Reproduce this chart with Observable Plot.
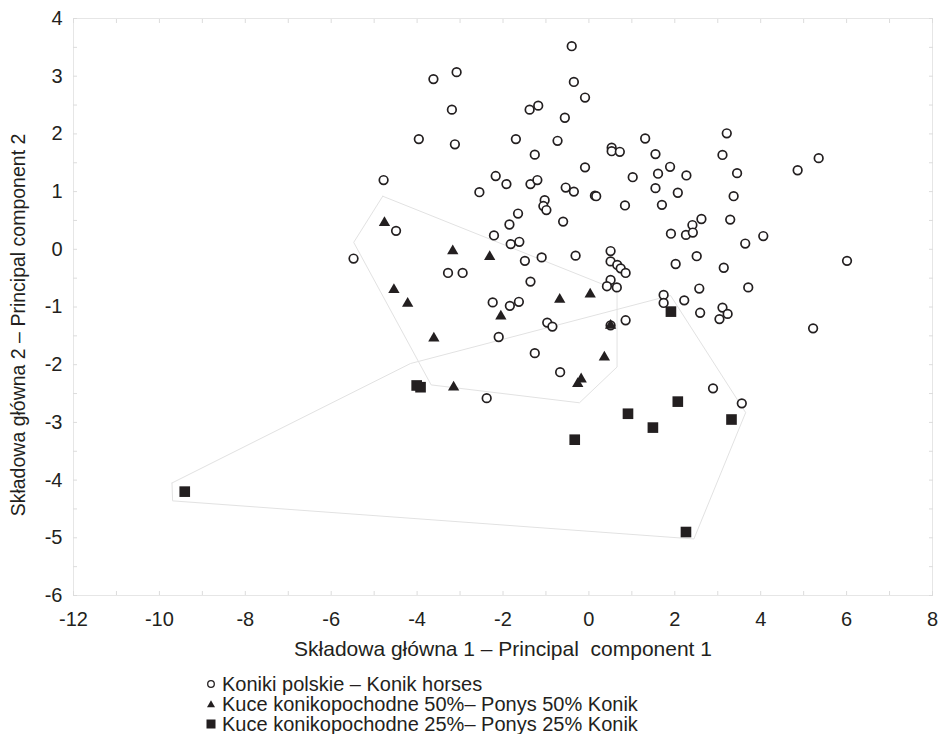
<!DOCTYPE html>
<html><head><meta charset="utf-8">
<script src="https://cdn.jsdelivr.net/npm/d3@7"></script>
<script src="https://cdn.jsdelivr.net/npm/@observablehq/plot@0.6"></script>
<style>
body{margin:0;background:#fff;font-family:"Liberation Sans",Arial,sans-serif;}
#legend{margin-top:6px;padding-left:205px;color:#231f20;font-size:20px;}
.row{height:20px;display:flex;align-items:center;white-space:pre;}
.row svg{width:12px;height:12px;margin-right:5px;flex:none;}
</style></head><body><div id="chart"></div><div id="legend"></div>
<script>
// Koniki polskie – Konik horses
const konikX = [-0.40,-0.35,-0.09,-3.08,-3.62,-3.19,-1.38,-1.18,-0.56,-3.96,-3.12,-1.70,-0.73,-1.26,0.53,0.53,0.72,-4.78,-2.17,-1.92,-2.55,-1.36,-1.20,-0.09,-0.54,-0.35,0.14,0.17,-1.03,-1.06,-0.99,-1.65,-1.85,-0.60,-4.49,-2.21,-1.82,-1.62,-5.48,-1.49,-1.10,-0.31,0.505,0.505,0.66,0.74,0.855,-3.28,-2.94,-1.36,0.505,0.42,0.65,-2.24,-1.84,-1.63,3.21,1.31,1.55,3.11,5.35,4.86,1.89,1.61,2.27,1.02,3.45,1.55,2.07,3.37,0.84,1.70,2.62,2.41,1.91,2.26,2.42,3.29,4.06,3.64,6.01,2.51,2.02,3.14,2.57,3.71,1.74,1.74,2.22,3.11,3.23,3.04,2.59,0.855,5.22,-2.10,-0.97,-0.85,0.505,-1.26,-0.67,-2.38,2.89,3.56];
const konikY = [3.52,2.90,2.63,3.07,2.95,2.42,2.42,2.49,2.28,1.91,1.82,1.91,1.88,1.64,1.76,1.70,1.69,1.20,1.27,1.13,0.99,1.13,1.20,1.42,1.07,1.00,0.93,0.92,0.85,0.75,0.68,0.62,0.43,0.48,0.32,0.24,0.09,0.13,-0.16,-0.20,-0.14,-0.11,-0.03,-0.21,-0.27,-0.33,-0.41,-0.41,-0.41,-0.56,-0.53,-0.64,-0.66,-0.92,-0.98,-0.91,2.01,1.92,1.65,1.635,1.58,1.37,1.43,1.31,1.28,1.25,1.32,1.06,0.98,0.92,0.76,0.77,0.525,0.42,0.27,0.25,0.29,0.515,0.23,0.10,-0.20,-0.12,-0.255,-0.32,-0.68,-0.66,-0.79,-0.93,-0.885,-1.01,-1.12,-1.21,-1.10,-1.23,-1.37,-1.52,-1.27,-1.34,-1.32,-1.80,-2.13,-2.58,-2.41,-2.67];
// Kuce konikopochodne 50% – Ponys 50% Konik
const pony50X = [-4.76,-3.17,-2.31,-4.54,-4.22,-0.68,0.03,-2.05,-3.61,0.505,0.36,-0.18,-0.26,-3.15];
const pony50Y = [0.46,-0.03,-0.13,-0.70,-0.94,-0.87,-0.78,-1.16,-1.54,-1.32,-1.87,-2.25,-2.33,-2.39];
// Kuce konikopochodne 25% – Ponys 25% Konik
const pony25X = [-9.41,-4.01,-3.92,1.91,0.91,2.07,1.49,3.32,-0.33,2.26];
const pony25Y = [-4.20,-2.36,-2.39,-1.08,-2.85,-2.64,-3.09,-2.95,-3.30,-4.90];
// hull outlines as drawn in the figure
const hull50X = [-4.80,0.435,0.656,0.656,-0.22,-3.673,-5.476];
const hull50Y = [0.92,-0.64,-0.76,-2.04,-2.66,-2.35,0.12];
const hull25X = [-9.707,-4.155,1.90,3.65,2.445,-9.693];
const hull25Y = [-4.05,-1.98,-0.80,-2.83,-5.02,-4.36];
// axes
const xTicks = [-12,-10,-8,-6,-4,-2,0,2,4,6,8];
const yTicks = [-6,-5,-4,-3,-2,-1,0,1,2,3,4];
const xMinor = d3.range(-12, 8.001, 1);
const yMinor = d3.range(-6, 4.001, 0.5);
const xTitle = "Składowa główna 1 – Principal  component 1";
const yTitle = "Składowa główna 2 – Principal component 2";
const legendLabels = ["Koniki polskie – Konik horses","Kuce konikopochodne 50%– Ponys 50% Konik","Kuce konikopochodne 25%– Ponys 25% Konik"];

const toRows = (xs, ys) => xs.map((x, i) => ({x, y: ys[i]}));
const closed = (xs, ys) => { const r = toRows(xs, ys); r.push(r[0]); return r; };
const ink = "#231f20";
const font = "'Liberation Sans', Arial, sans-serif";

const chart = Plot.plot({
  width: 942, height: 668,
  marginLeft: 73, marginRight: 10, marginTop: 18, marginBottom: 73,
  x: {domain: [-12, 8]},
  y: {domain: [-6, 4]},
  style: {fontFamily: font, fontSize: "20px", color: ink, background: "#fff"},
  marks: [
    Plot.frame({stroke: "#e6e6e6"}),
    Plot.axisX(xMinor, {anchor: "bottom", tickSize: -4, tickFormat: () => "", stroke: "#dcdcdc", label: null}),
    Plot.axisX(xMinor, {anchor: "top", tickSize: -4, tickFormat: () => "", stroke: "#dcdcdc", label: null}),
    Plot.axisY(yMinor, {anchor: "left", tickSize: -4, tickFormat: () => "", stroke: "#dcdcdc", label: null}),
    Plot.axisY(yMinor, {anchor: "right", tickSize: -4, tickFormat: () => "", stroke: "#dcdcdc", label: null}),
    Plot.axisX(xTicks, {anchor: "bottom", tickSize: 0, tickPadding: 16, tickFormat: d => String(d), label: null, fill: ink}),
    Plot.axisY(yTicks, {anchor: "left", tickSize: 0, tickPadding: 11, tickFormat: d => String(d), label: null, fill: ink}),
    Plot.text([xTitle], {frameAnchor: "bottom", dy: 60, text: d => d, fill: ink, fontSize: 21}),
    Plot.text([yTitle], {frameAnchor: "left", dx: -55, dy: 18, rotate: -90, textAnchor: "middle", text: d => d, fill: ink, fontSize: 19.5}),
    Plot.line(closed(hull50X, hull50Y), {x: "x", y: "y", stroke: "#e2e2e2", strokeWidth: 1}),
    Plot.line(closed(hull25X, hull25Y), {x: "x", y: "y", stroke: "#e2e2e2", strokeWidth: 1}),
    Plot.dot(toRows(konikX, konikY), {x: "x", y: "y", symbol: "circle", r: 4.3, fill: "#fff", stroke: ink, strokeWidth: 1.7}),
    Plot.dot(toRows(pony50X, pony50Y), {x: "x", y: "y", symbol: "triangle", r: 4.2, fill: ink, stroke: "none"}),
    Plot.dot(toRows(pony25X, pony25Y), {x: "x", y: "y", symbol: "square", r: 6.0, fill: ink, stroke: "none"})
  ]
});
document.getElementById("chart").appendChild(chart);

const syms = [
  '<circle cx="6" cy="6" r="3.3" fill="#fff" stroke="' + ink + '" stroke-width="1.3"/>',
  '<path d="M6,2.2L10,9.2L2,9.2Z" fill="' + ink + '"/>',
  '<rect x="1.5" y="1.5" width="9" height="9" fill="' + ink + '"/>'
];
const legend = document.getElementById("legend");
legendLabels.forEach((t, i) => {
  const row = document.createElement("div");
  row.className = "row";
  row.innerHTML = '<svg viewBox="0 0 12 12">' + syms[i] + '</svg>';
  const span = document.createElement("span");
  span.textContent = t;
  row.appendChild(span);
  legend.appendChild(row);
});
</script></body></html>
